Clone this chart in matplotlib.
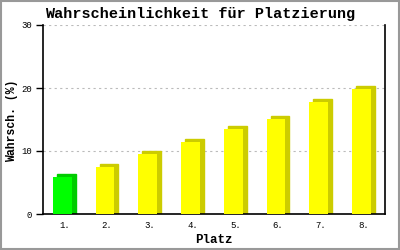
import matplotlib
matplotlib.use("Agg")
import matplotlib.pyplot as plt
from matplotlib.patches import Rectangle

categories = ["1.", "2.", "3.", "4.", "5.", "6.", "7.", "8."]
values = [5.8, 7.5, 9.5, 11.5, 13.5, 15.1, 17.7, 19.9]
front_colors = ["#00FF00"] + ["#FFFF00"] * 7
side_colors = ["#00CC00"] + ["#CCCC00"] * 7
yticks = [0, 10, 20, 30]

FONT = "Liberation Mono"
fig = plt.figure(figsize=(4, 2.5), dpi=100)
ax = fig.add_axes([43/400, 1 - 214/250, 342/400, 189/250])

xs = list(range(len(categories)))
w = 0.44
dx = 0.094
dy = 0.48
for x, v, fc, sc in zip(xs, values, front_colors, side_colors):
    ax.add_patch(Rectangle((x - 0.05 - w/2 + dx, 0), w, v + dy, color=sc, zorder=2))
    ax.bar(x - 0.05, v, width=w, color=fc, zorder=3)

ax.set_xlim(-0.5, 7.5)
ax.set_ylim(0, 30)
ax.set_yticks(yticks)
ax.set_yticklabels([str(t) for t in yticks], fontsize=6.5, family=FONT)
ax.set_xticks(xs)
ax.set_xticklabels(categories, fontsize=6.5, family=FONT)
ax.tick_params(axis="x", length=0, pad=5)
ax.tick_params(axis="y", length=5, width=1, direction="out", pad=3)
ax.spines["top"].set_visible(False)
for s in ["left", "right", "bottom"]:
    ax.spines[s].set_linewidth(1.2)
ax.yaxis.grid(True, color="#BBBBBB", linestyle=(0, (2, 3)), linewidth=0.8, zorder=0)
ax.set_axisbelow(True)

ax.set_xlabel("Platz", fontsize=9, family=FONT, fontweight="bold", labelpad=3)
fig.text(12/400, 1 - 121/250, "Wahrsch. (%)", rotation=90, ha="center", va="center",
         fontsize=8.3, family=FONT, fontweight="bold")
fig.text(200/400, 1 - 14/250, "Wahrscheinlichkeit für Platzierung", ha="center", va="center",
         fontsize=10.9, family=FONT, fontweight="bold")

fig.patches.append(Rectangle((0.002, 0.004), 0.995, 0.994, transform=fig.transFigure,
                             fill=False, edgecolor="#999999", linewidth=1.5))
fig.savefig("out.png", dpi=100)
